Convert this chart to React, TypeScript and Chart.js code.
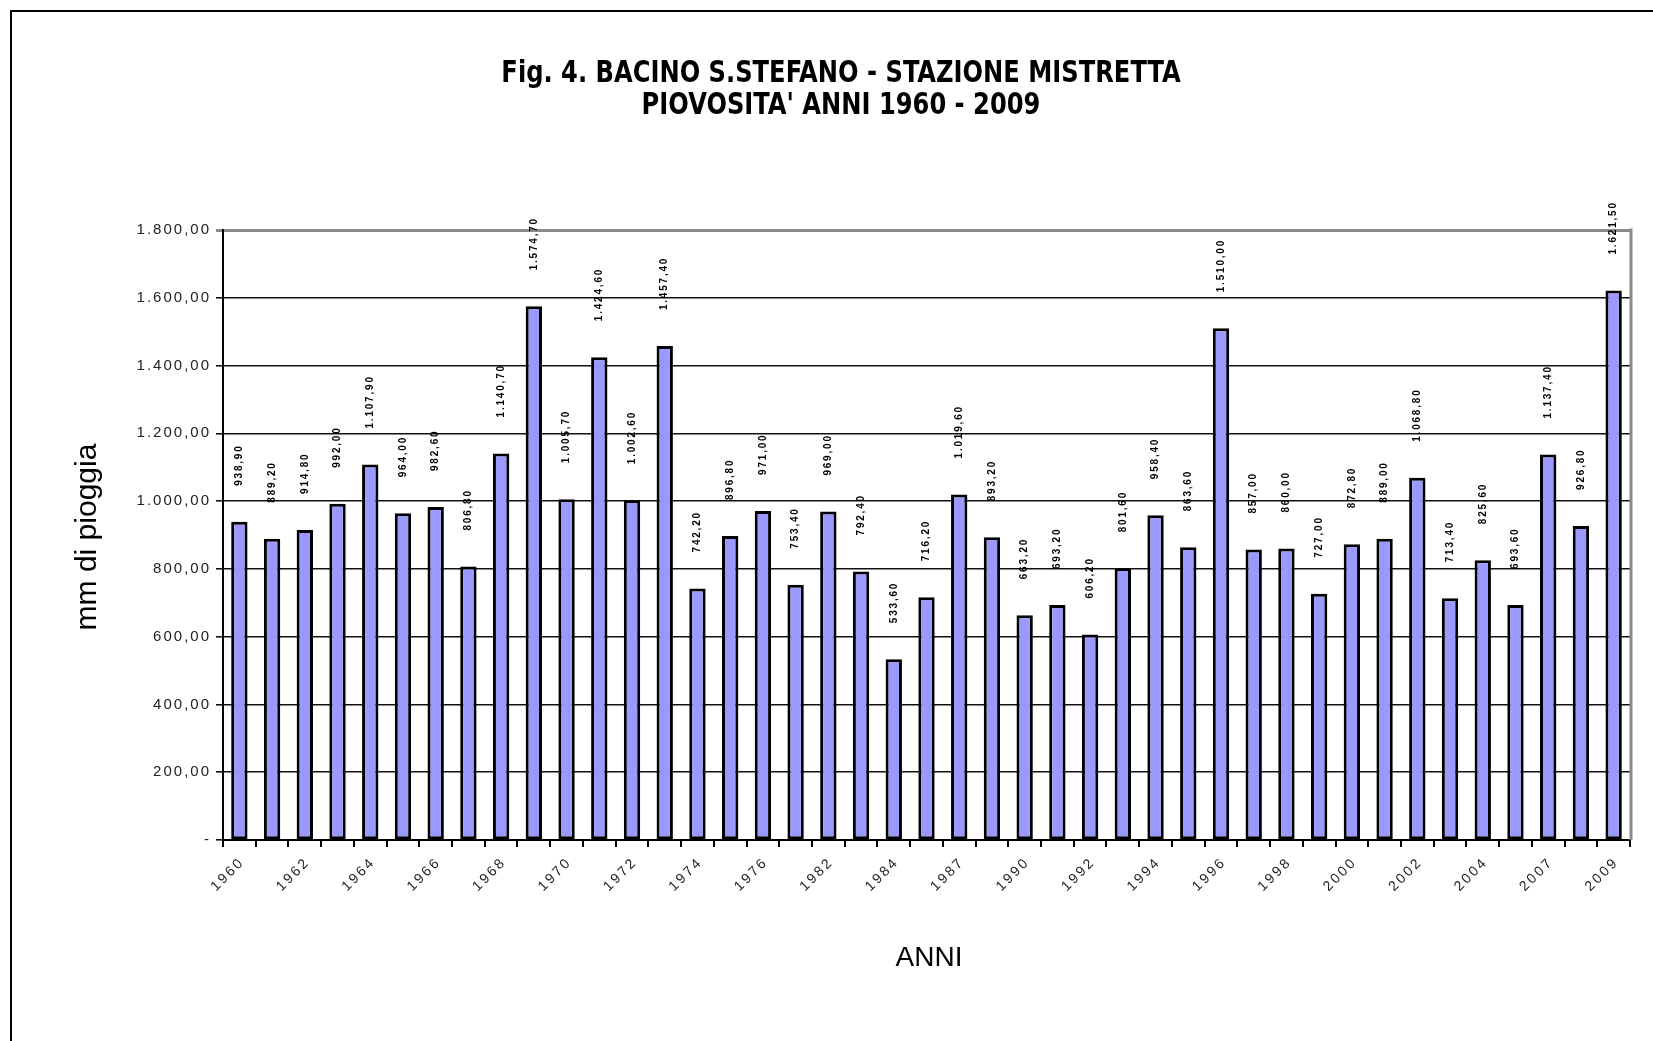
import { useEffect, useRef } from "react";
import { Chart, registerables } from "chart.js";

Chart.register(...registerables);

// Annual rainfall (mm) at the Mistretta station, S. Stefano basin
const years = [
  "1960", "1961", "1962", "1963", "1964", "1965", "1966", "1967", "1968", "1969",
  "1970", "1971", "1972", "1973", "1974", "1975", "1976", "1981", "1982", "1983",
  "1984", "1986", "1987", "1989", "1990", "1991", "1992", "1993", "1994", "1995",
  "1996", "1997", "1998", "1999", "2000", "2001", "2002", "2003", "2004", "2006",
  "2007", "2008", "2009",
];

const rainfall = [
  938.9, 889.2, 914.8, 992.0, 1107.9, 964.0, 982.6, 806.8, 1140.7, 1574.7,
  1005.7, 1424.6, 1002.6, 1457.4, 742.2, 896.8, 971.0, 753.4, 969.0, 792.4,
  533.6, 716.2, 1019.6, 893.2, 663.2, 693.2, 606.2, 801.6, 958.4, 863.6,
  1510.0, 857.0, 860.0, 727.0, 872.8, 889.0, 1068.8, 713.4, 825.6, 693.6,
  1137.4, 926.8, 1621.5,
];

const yTicks = [0, 200, 400, 600, 800, 1000, 1200, 1400, 1600, 1800];

const titleLines = [
  "Fig. 4. BACINO S.STEFANO - STAZIONE MISTRETTA",
  "PIOVOSITA' ANNI 1960 - 2009",
];
const yTitle = "mm di pioggia";
const xTitle = "ANNI";

// Italian number format: 1.107,90 ; zero shown as a dash
const fmt = (v: number): string => {
  if (v === 0) return "-";
  const [i, d] = v.toFixed(2).split(".");
  return i.replace(/\B(?=(\d{3})+(?!\d))/g, ".") + "," + d;
};

const SANS = '"Liberation Sans", Arial, sans-serif';
const NARROW = '"Liberation Sans Narrow", "Arial Narrow", "DejaVu Sans Condensed", sans-serif';

const decor = {
  id: "decor",
  afterDatasetsDraw(chart: any) {
    const ctx: CanvasRenderingContext2D = chart.ctx;
    const a = chart.chartArea;
    const xs = chart.scales.x;
    const ys = chart.scales.y;

    // grey frame on the right side of the plot
    ctx.save();
    ctx.strokeStyle = "#8a8a8a";
    ctx.lineWidth = 3;
    ctx.beginPath();
    ctx.moveTo(a.right + 1, a.top - 1.5);
    ctx.lineTo(a.right + 1, a.bottom);
    ctx.stroke();
    ctx.restore();

    // vertical value labels above each bar
    const meta = chart.getDatasetMeta(0);
    ctx.save();
    ctx.font = `bold 10px ${SANS}`;
    (ctx as any).letterSpacing = "1.8px";
    ctx.fillStyle = "#000";
    ctx.textAlign = "left";
    ctx.textBaseline = "middle";
    meta.data.forEach((bar: any, i: number) => {
      ctx.save();
      ctx.translate(bar.x, bar.y - 36);
      ctx.rotate(-Math.PI / 2);
      ctx.fillText(fmt(rainfall[i]), 0, 0);
      ctx.restore();
    });
    ctx.restore();

    // y tick labels
    ctx.save();
    ctx.font = `15px ${SANS}`;
    (ctx as any).letterSpacing = "2px";
    ctx.fillStyle = "#222";
    ctx.textAlign = "right";
    ctx.textBaseline = "middle";
    yTicks.forEach((v) => {
      ctx.fillText(fmt(v), a.left - 12, ys.getPixelForValue(v));
    });
    ctx.restore();

    // x tick labels, every second year, slanted
    ctx.save();
    ctx.font = `14px ${SANS}`;
    (ctx as any).letterSpacing = "2.5px";
    ctx.fillStyle = "#222";
    ctx.textAlign = "right";
    ctx.textBaseline = "middle";
    years.forEach((yr, i) => {
      if (i % 2 !== 0) return;
      ctx.save();
      ctx.translate(xs.getPixelForValue(i) + 3, a.bottom + 20);
      ctx.rotate(-Math.PI / 4);
      ctx.fillText(yr, 0, 0);
      ctx.restore();
    });
    ctx.restore();
  },
  afterDraw(chart: any) {
    const ctx: CanvasRenderingContext2D = chart.ctx;
    ctx.save();
    ctx.fillStyle = "#000";
    ctx.textAlign = "center";
    ctx.textBaseline = "middle";

    // condensed bold title
    ctx.save();
    ctx.translate(833, 0);
    ctx.scale(0.96, 1.08);
    ctx.font = `bold 28px ${NARROW}`;
    ctx.fillText(titleLines[0], 0, 66 / 1.08);
    ctx.fillText(titleLines[1], 0, 98 / 1.08);
    ctx.restore();

    ctx.font = `28px ${SANS}`;
    ctx.fillText(xTitle, 921, 950);

    ctx.font = `30px ${SANS}`;
    ctx.translate(80, 529);
    ctx.rotate(-Math.PI / 2);
    ctx.fillText(yTitle, 0, 0);
    ctx.restore();
  },
};

export default function App() {
  const canvasRef = useRef<HTMLCanvasElement | null>(null);

  useEffect(() => {
    if (!canvasRef.current) return;
    const chart = new Chart(canvasRef.current, {
      type: "bar",
      data: {
        labels: years,
        datasets: [
          {
            data: rainfall,
            backgroundColor: "#9999ff",
            borderColor: "#000",
            borderWidth: 3,
            borderSkipped: false,
            barPercentage: 0.5,
            categoryPercentage: 1,
          },
        ],
      },
      options: {
        animation: false,
        responsive: true,
        maintainAspectRatio: false,
        devicePixelRatio: 1,
        events: [],
        layout: { padding: { left: 0, right: 23, top: 222, bottom: 0 } },
        plugins: {
          legend: { display: false },
          tooltip: { enabled: false },
          title: { display: false },
        },
        scales: {
          x: {
            type: "category",
            offset: true,
            ticks: { display: false },
            grid: {
              offset: true,
              drawOnChartArea: false,
              drawTicks: true,
              tickLength: 7,
              color: "#000",
              lineWidth: 2,
            },
            border: { display: true, color: "#000", width: 2 },
            afterFit: (s: any) => {
              s.height = 193;
            },
          },
          y: {
            min: 0,
            max: 1800,
            ticks: { display: false, stepSize: 200 },
            grid: {
              drawTicks: true,
              tickLength: 7,
              color: (c: any) => (c.tick && c.tick.value === 1800 ? "#8a8a8a" : "#111"),
              lineWidth: (c: any) => (c.tick && c.tick.value === 1800 ? 3 : 1.6),
            },
            border: { display: true, color: "#000", width: 2 },
            afterFit: (s: any) => {
              s.width = 215;
            },
          },
        },
      },
      plugins: [decor],
    });
    return () => chart.destroy();
  }, []);

  return (
    <div
      style={{
        position: "relative",
        width: 1645,
        height: 1025,
        overflow: "hidden",
        background: "#fff",
      }}
    >
      {/* outer frame of the figure, running off the page edges */}
      <div
        style={{
          position: "fixed",
          left: 10,
          top: 10,
          width: 2000,
          height: 2000,
          border: "2px solid #000",
          pointerEvents: "none",
        }}
      />
      <canvas ref={canvasRef} style={{ position: "relative" }} />
    </div>
  );
}
